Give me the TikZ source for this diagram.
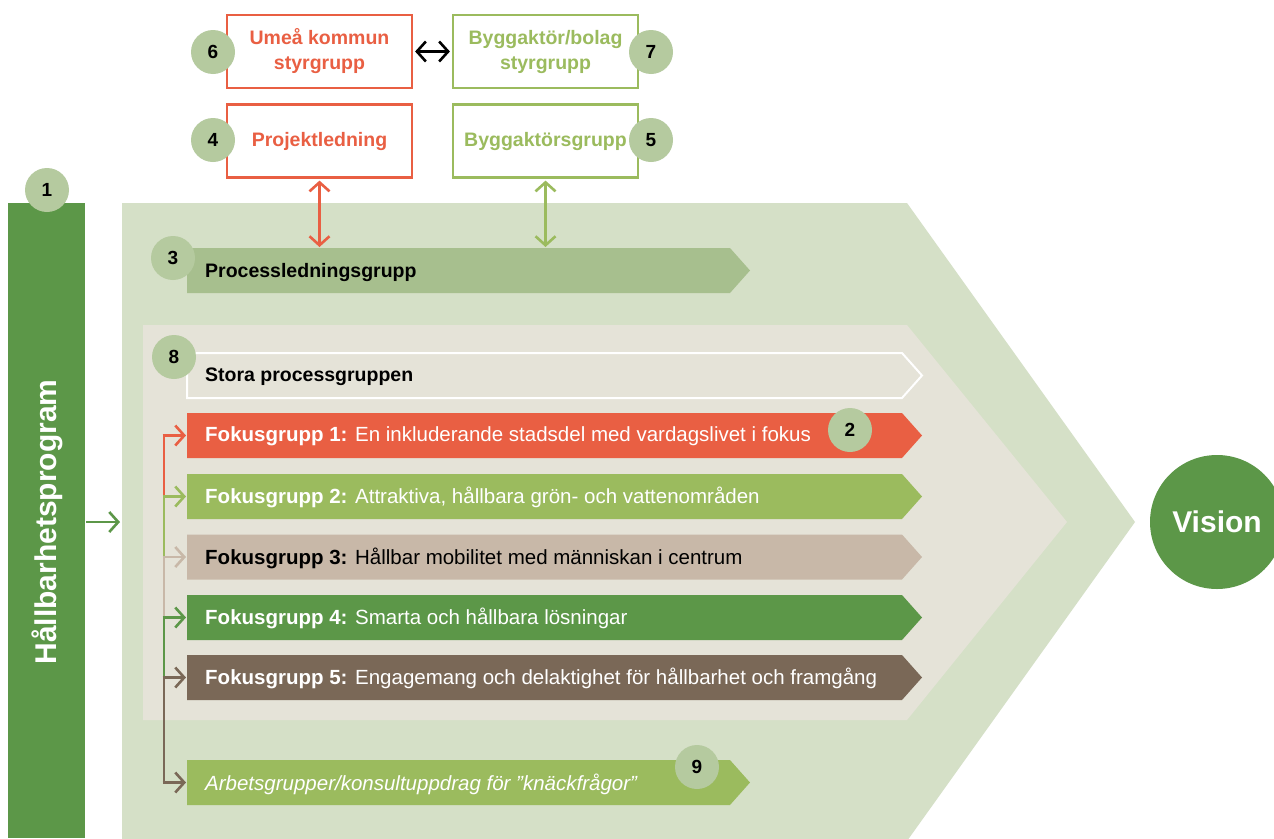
\documentclass[tikz,border=0pt]{standalone}
\usepackage{fontspec}
\setsansfont{Liberation Sans}
\usetikzlibrary{arrows.meta}

\definecolor{hpRed}{HTML}{E95F43}
\definecolor{hpLight}{HTML}{9BBB5E}
\definecolor{hpTan}{HTML}{C8B8A8}
\definecolor{hpDark}{HTML}{5C9748}
\definecolor{hpBrown}{HTML}{7A6857}
\definecolor{hpProc}{HTML}{A7BF8E}
\definecolor{hpBack}{HTML}{D5E0C7}
\definecolor{hpBeige}{HTML}{E5E3D8}
\definecolor{hpBadge}{HTML}{B5CA9F}

\tikzset{
  badge/.style={circle, fill=hpBadge, minimum size=44pt, inner sep=0pt,
    font=\sffamily\bfseries\fontsize{19}{19}\selectfont},
  topbox/.style={draw=#1, text=#1, line width=2.2pt, minimum width=185pt,
    minimum height=73pt, align=center, inner sep=0pt,
    font=\sffamily\bfseries\fontsize{19.5}{25}\selectfont},
  bartext/.style={anchor=west, inner sep=0pt, font=\sffamily\fontsize{20.5}{22}\selectfont},
  barb/.style={line width=2.6pt, -{Straight Barb[length=9pt,width=20pt]}},
  dbarb/.style={line width=2.6pt, {Straight Barb[length=9pt,width=20pt]}-{Straight Barb[length=9pt,width=20pt]}},
}

%% arrow shaped bar: left x, centre y, right x
\newcommand{\arrowbar}[4][]{%
  \path[#1] (#2,#3-22.5) -- (#4-20,#3-22.5) -- (#4,#3) -- (#4-20,#3+22.5)
    -- (#2,#3+22.5) -- cycle;}

\begin{document}
\begin{tikzpicture}[x=1pt, y=-1pt, font=\sffamily]
  \useasboundingbox[fill=white] (0,0) rectangle (1274,838);

  %% background chevrons
  \fill[hpBack] (122,203) -- (907,203) -- (1135,522) -- (907,841) -- (122,841) -- cycle;
  \fill[hpBeige] (143,325) -- (907,325) -- (1067,522) -- (907,720) -- (143,720) -- cycle;

  %% left bar
  \fill[hpDark] (8,203) rectangle (85,838);
  \node[rotate=90, text=white, font=\sffamily\bfseries\fontsize{30}{30}\selectfont]
    (prog) at (47,522) {Hållbarhetsprogram};
  \coordinate (progOut) at (86,522);
  \coordinate (progIn) at (120,522);
  \draw[hpDark, barb] (progOut) -- (progIn);

  %% vision
  \node[circle, fill=hpDark, minimum size=134pt, inner sep=0pt, text=white,
    font=\sffamily\bfseries\fontsize{30}{30}\selectfont] (vision) at (1217,522) {Vision};

  %% process bars
  \arrowbar[fill=hpProc]{187}{270.5}{750}
  \node[bartext, font=\sffamily\bfseries\fontsize{19.5}{22}\selectfont] (proc) at (205,272) {Processledningsgrupp};
  \coordinate (procTop) at (0,247);

  \arrowbar[fill=hpBeige, draw=white, line width=2pt]{187}{375.5}{922}
  \node[bartext, font=\sffamily\bfseries\fontsize{19.5}{22}\selectfont] (stora) at (205,377) {Stora processgruppen};

  %% focus groups
  \foreach \i/\yy/\col/\tcol/\lbl in {
      1/435.5/hpRed/white/{En inkluderande stadsdel med vardagslivet i fokus},
      2/496.5/hpLight/white/{Attraktiva, hållbara grön- och vattenområden},
      3/557/hpTan/black/{Hållbar mobilitet med människan i centrum},
      4/617.5/hpDark/white/{Smarta och hållbara lösningar},
      5/677.5/hpBrown/white/{Engagemang och delaktighet för hållbarhet och framgång}} {
    \arrowbar[fill=\col]{187}{\yy}{922}
    \node[bartext, text=\tcol] (fg\i) at (205,\yy+1) {\textbf{Fokusgrupp \i:} \lbl};
    \coordinate (bar\i) at (186,\yy);
    \coordinate (trunk\i) at (164,\yy);
  }
  \arrowbar[fill=hpLight]{187}{782.5}{750}
  \node[bartext, text=white] (work) at (205,784) {\itshape Arbetsgrupper/konsultuppdrag för ”knäckfrågor”};
  \coordinate (bar6) at (186,782.5);
  \coordinate (trunk6) at (164,782.5);

  %% connectors
  \foreach \i/\j/\col in {1/2/hpRed, 2/3/hpLight, 3/4/hpTan, 4/5/hpDark, 5/6/hpBrown} {
    \draw[\col, line width=2.6pt] (trunk\i) -- (trunk\j);
    \draw[\col, barb] ([xshift=-1.3pt]trunk\i) -- (bar\i);
  }
  \draw[hpBrown, barb] ([xshift=-1.3pt]trunk6) -- (bar6);

  %% steering groups
  \node[topbox=hpRed] (umea) at (319.5,51.5) {Umeå kommun\\styrgrupp};
  \node[topbox=hpLight] (bolag) at (545.5,51.5) {Byggaktör/bolag\\styrgrupp};
  \node[topbox=hpRed] (proj) at (319.5,141) {Projektledning};
  \node[topbox=hpLight] (bygg) at (545.5,141) {Byggaktörsgrupp};

  \draw[black, dbarb] ([xshift=2pt]umea.east) -- ([xshift=-2pt]bolag.west);
  \draw[hpRed, dbarb] ([yshift=-2pt]proj.south) -- (proj.south |- procTop);
  \draw[hpLight, dbarb] ([yshift=-2pt]bygg.south) -- (bygg.south |- procTop);

  %% badges
  \node[badge] (b1) at (47,190) {1};
  \node[badge] (b2) at (850,430) {2};
  \node[badge] (b3) at (173,258) {3};
  \node[badge] (b4) at (213,140) {4};
  \node[badge] (b5) at (651,140) {5};
  \node[badge] (b6) at (213,52) {6};
  \node[badge] (b7) at (651,52) {7};
  \node[badge] (b8) at (174,357) {8};
  \node[badge] (b9) at (697,767) {9};
\end{tikzpicture}
\end{document}
